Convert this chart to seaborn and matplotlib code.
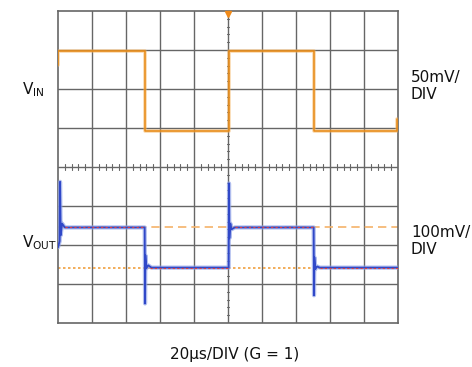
import numpy as np
import pandas as pd
import matplotlib
matplotlib.use("Agg")
import matplotlib.pyplot as plt
import seaborn as sns

sns.set_style("white")
plt.rcParams['font.family'] = ['DejaVu Sans']

# Time in divisions (20us/DIV), amplitude in divisions
vin_t = [0.0, 0.0, 2.55, 2.55, 5.03, 5.03, 7.52, 7.52, 9.97, 9.97]
vin_v = [2.62, 2.97, 2.97, 0.92, 0.92, 2.97, 2.97, 0.92, 0.92, 1.22]

vout_t = [0.0, 0.0, 0.05, 0.06, 0.08, 0.12, 0.2, 2.55, 2.56, 2.57, 2.60, 2.65, 2.75,
          5.02, 5.03, 5.04, 5.07, 5.1, 5.2, 7.52, 7.53, 7.54, 7.57, 7.62, 7.7, 10.0]
vout_v = [-2.06, -2.06, -1.9, -0.38, -1.75, -1.45, -1.55, -1.55, -3.5, -2.26, -2.6, -2.52, -2.58,
          -2.58, -0.42, -1.83, -1.45, -1.6, -1.55, -1.55, -3.29, -2.31, -2.62, -2.55, -2.58, -2.58]

vout_high = -1.55
vout_low = -2.58

labels_left = ["V$_{\\mathregular{IN}}$", "V$_{\\mathregular{OUT}}$"]
labels_right = ["50mV/\nDIV", "100mV/\nDIV"]
xlabel = "20\u03bcs/DIV (G = 1)"

fig = plt.figure(figsize=(4.72, 3.67), dpi=100)
ax = fig.add_axes([58/472, 44/367, 340/472, 312/367])

grid_c = "#666666"
ax.set_xlim(0, 10)
ax.set_ylim(-4, 4)
for x in range(1, 10):
    ax.axvline(x, color=grid_c, lw=1.0, zorder=1)
for y in range(-3, 4):
    ax.axhline(y, color=grid_c, lw=1.0, zorder=1)
for s in ax.spines.values():
    s.set_color(grid_c)
    s.set_linewidth(1.2)
# minor ticks on center lines
mt = np.arange(0.2, 10, 0.2)
for x in mt:
    if abs(x - round(x)) > 0.01:
        ax.plot([x, x], [-0.07, 0.07], color=grid_c, lw=0.8, zorder=1)
mt2 = np.arange(-3.8, 4, 0.2)
for y in mt2:
    if abs(y - round(y)) > 0.01:
        ax.plot([4.96, 5.04], [y, y], color=grid_c, lw=0.8, zorder=1)
ax.set_xticks([])
ax.set_yticks([])

# reference lines
ax.axhline(vout_high, color="#f5b36a", lw=1.2, ls=(0, (5, 3)), zorder=2)
ax.axhline(vout_low, color="#f0a040", lw=1.2, ls=(0, (1.5, 1.5)), zorder=2)

df_in = pd.DataFrame({"t": vin_t, "v": vin_v})
df_out = pd.DataFrame({"t": vout_t, "v": vout_v})

sns.lineplot(data=df_in, x="t", y="v", sort=False, ax=ax, color="#f5b05a", lw=2.6, alpha=0.5, zorder=3, estimator=None)
sns.lineplot(data=df_in, x="t", y="v", sort=False, ax=ax, color="#e88a14", lw=1.1, zorder=4, estimator=None)
sns.lineplot(data=df_out, x="t", y="v", sort=False, ax=ax, color="#8fa2e8", lw=3.0, alpha=0.7, zorder=3, estimator=None)
sns.lineplot(data=df_out, x="t", y="v", sort=False, ax=ax, color="#3048c8", lw=1.3, zorder=4, estimator=None)
ax.axhline(vout_high, xmin=0.02, xmax=0.255, color="#e04040", lw=0.8, ls=(0, (2, 2)), zorder=5)
ax.axhline(vout_high, xmin=0.52, xmax=0.752, color="#e04040", lw=0.8, ls=(0, (2, 2)), zorder=5)
ax.axhline(vout_low, xmin=0.27, xmax=0.503, color="#e04040", lw=0.8, ls=(0, (2, 2)), zorder=5)
ax.axhline(vout_low, xmin=0.772, xmax=1.0, color="#e04040", lw=0.8, ls=(0, (2, 2)), zorder=5)

# trigger marker
ax.plot([5.0], [3.93], marker="v", color="#f08a1a", ms=5, clip_on=False, zorder=6)

ax.set_xlabel("")
ax.set_ylabel("")

fig.text(33/472, 1 - 90/367, labels_left[0], fontsize=11, ha="center", va="center", color="#111111")
fig.text(40/472, 1 - 243/367, labels_left[1], fontsize=11, ha="center", va="center", color="#111111")
fig.text(411/472, 1 - 86/367, labels_right[0], fontsize=11, ha="left", va="center", color="#111111", linespacing=1.15)
fig.text(411/472, 1 - 241/367, labels_right[1], fontsize=11, ha="left", va="center", color="#111111", linespacing=1.15)
fig.text(235/472, 1 - 355/367, xlabel, fontsize=11, ha="center", va="center", color="#111111")

fig.savefig("out.png", dpi=100)
